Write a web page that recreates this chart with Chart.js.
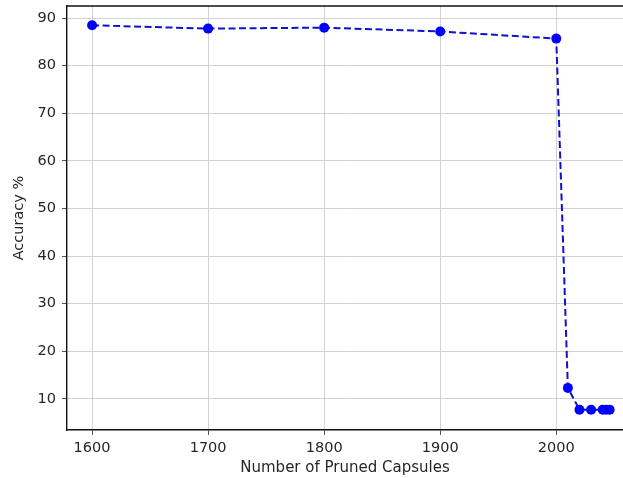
<!DOCTYPE html>
<html>
<head>
<meta charset="utf-8">
<script src="https://cdn.jsdelivr.net/npm/chart.js@4/dist/chart.umd.min.js"></script>
<style>
  html, body { margin: 0; padding: 0; background: #ffffff; }
  #wrap { width: 623px; height: 478px; position: relative; }
</style>
</head>
<body>
<div id="wrap"><canvas id="c" width="623" height="478"></canvas></div>
<script>
// Pruning sweep: accuracy after removing a number of capsules
const prunedCapsules = [1600, 1700, 1800, 1900, 2000, 2010, 2020, 2030, 2040, 2043, 2046];
const accuracy       = [88.5, 87.8, 88.0, 87.2, 85.7, 12.3, 7.7, 7.7, 7.7, 7.7, 7.7];

const xTicks = [1600, 1700, 1800, 1900, 2000];
const yTicks = [10, 20, 30, 40, 50, 60, 70, 80, 90];

const xTitle = 'Number of Pruned Capsules';
const yTitle = 'Accuracy %';

const TICK_FONT = { family: '"DejaVu Sans", sans-serif', size: 14.5 };
const X_TITLE_FONT = { family: '"DejaVu Sans", sans-serif', size: 15 };
const Y_TITLE_FONT = { family: '"DejaVu Sans", sans-serif', size: 14.5 };
const GRID = '#d2d2d2';
const TICK = '#555555';
const TEXT = '#262626';

// Closes the frame along the top edge of the plot area
const topSpine = {
  id: 'topSpine',
  afterDraw(chart) {
    const { ctx, chartArea } = chart;
    ctx.save();
    ctx.strokeStyle = '#111111';
    ctx.lineWidth = 1.4;
    ctx.beginPath();
    ctx.moveTo(chartArea.left, chartArea.top);
    ctx.lineTo(chartArea.right + 2, chartArea.top);
    ctx.stroke();
    ctx.restore();
  }
};

// Fixed axis boxes, without the extra room Chart.js keeps for edge labels
function fixBox(size, key) {
  return s => {
    s[key] = size;
    s.paddingTop = 0; s.paddingBottom = 0;
    s.paddingLeft = 0; s.paddingRight = 0;
  };
}

new Chart(document.getElementById('c'), {
  type: 'line',
  data: {
    datasets: [{
      data: prunedCapsules.map((x, i) => ({ x, y: accuracy[i] })),
      borderColor: '#1010d0',
      backgroundColor: '#0000ff',
      pointBackgroundColor: '#0000ff',
      pointBorderColor: '#0000ff',
      borderWidth: 2,
      borderDash: [7, 3.5],
      pointRadius: 5,
      pointBorderWidth: 0,
      tension: 0,
      fill: false
    }]
  },
  plugins: [topSpine],
  options: {
    responsive: false,
    animation: false,
    events: [],
    layout: { autoPadding: false, padding: { top: 6, right: 0, left: 0, bottom: 0 } },
    plugins: { legend: { display: false }, tooltip: { enabled: false } },
    scales: {
      x: {
        type: 'linear',
        min: 1578.4,
        max: 2057.5,
        afterBuildTicks: s => { s.ticks = xTicks.map(v => ({ value: v })); },
        afterFit: fixBox(48, 'height'),
        grid: { color: GRID, lineWidth: 1, tickLength: 5, tickColor: TICK },
        border: { color: '#111111', width: 1.4 },
        ticks: { font: TICK_FONT, color: TEXT, padding: 5, maxRotation: 0, callback: v => String(v) },
        title: { display: true, text: xTitle, font: X_TITLE_FONT, color: TEXT, padding: { top: 0, bottom: 1 } }
      },
      y: {
        type: 'linear',
        min: 3.45,
        max: 92.55,
        afterBuildTicks: s => { s.ticks = yTicks.map(v => ({ value: v })); },
        afterFit: fixBox(67, 'width'),
        grid: { color: GRID, lineWidth: 1, tickLength: 5, tickColor: TICK },
        border: { color: '#111111', width: 1.4 },
        ticks: { font: TICK_FONT, color: TEXT, padding: 6, callback: v => String(v) },
        title: { display: true, text: yTitle, font: Y_TITLE_FONT, color: TEXT, padding: { top: 11, bottom: 0 } }
      }
    }
  }
});
</script>
</body>
</html>
